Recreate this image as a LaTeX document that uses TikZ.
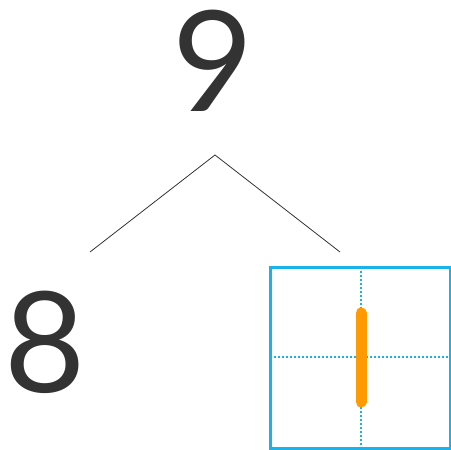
\documentclass[tikz,border=0pt]{standalone}
\usepackage{fontspec}
\setmainfont{Lato}
\usepackage{tikz}
\usetikzlibrary{positioning}
\definecolor{digitgray}{HTML}{333333}
\definecolor{gridblue}{HTML}{1AB2EA}
\definecolor{strokeorange}{HTML}{FF9B00}
\tikzset{
  digit/.style={
    text=digitgray,
    inner sep=0pt,
    font=\fontsize{140}{140}\selectfont
  },
  branch/.style={
    draw=digitgray,
    line width=0.8pt
  },
  gridbox/.style={
    draw=gridblue,
    line width=3pt
  },
  gridline/.style={
    draw=gridblue,
    line width=1.8pt,
    dash pattern=on 1.8pt off 2.2pt
  },
  stroke/.style={
    draw=strokeorange,
    line width=11pt,
    line cap=round
  }
}

\begin{document}
\begin{tikzpicture}[x=1pt,y=-1pt]
\useasboundingbox (0,0) rectangle (451,450);
\node[digit] (top) at (213,61) {9};
\node[digit] (left) at (45,342) {8};
\coordinate (apex) at (215,155);
\coordinate (leftend) at (90,252);
\coordinate (rightend) at (340,252);
\draw[branch] (leftend) -- (apex) -- (rightend);
% writing box
\coordinate (boxnw) at (270,267);
\coordinate (boxse) at (450,448);
\draw[gridline] (361,267) -- (361,448);
\draw[gridline] (270,357) -- (450,357);
\draw[gridbox] (boxnw) rectangle (boxse);
\draw[stroke] (361,313) -- (361,402);
\end{tikzpicture}
\end{document}
